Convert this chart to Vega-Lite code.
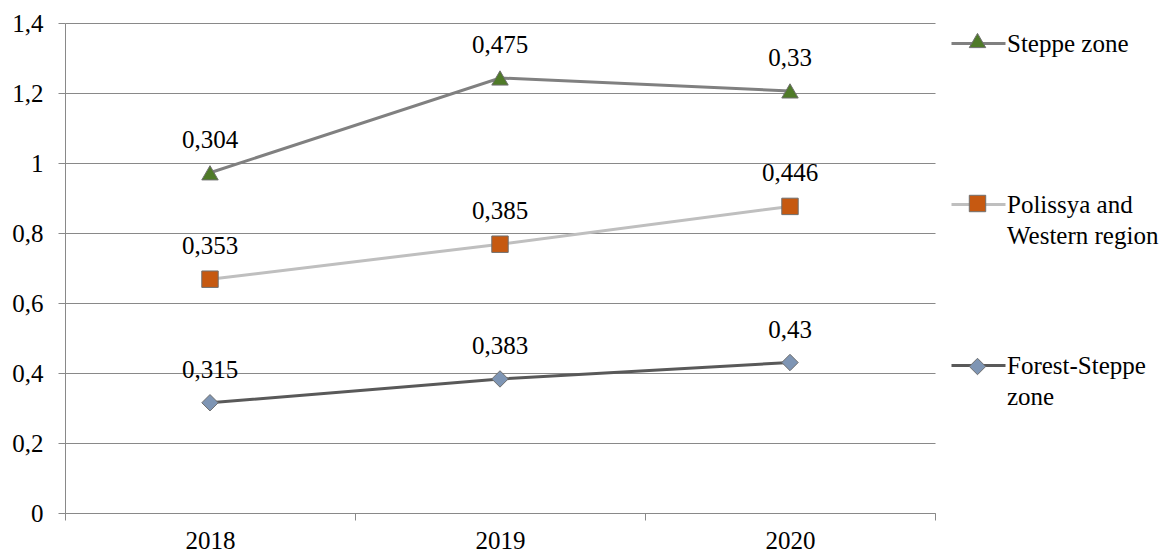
{
  "$schema": "https://vega.github.io/schema/vega-lite/v6.json",
  "width": 870,
  "height": 490,
  "autosize": {"type": "none"},
  "padding": {"left": 65, "top": 23, "right": 238, "bottom": 41},
  "config": {
    "locale": {"number": {"decimal": ",", "thousands": " ", "grouping": [3], "currency": ["", ""]}},
    "font": "Liberation Serif",
    "view": {"stroke": null},
    "axis": {"labelFont": "Liberation Serif", "labelFontSize": 25, "labelColor": "#000000", "domainColor": "#898989", "tickColor": "#898989", "gridColor": "#898989", "tickSize": 7, "title": null}
  },
  "data": {
    "values": [
      {"year": "2018", "zone": "Forest-Steppe zone", "value": 0.315, "order": 1},
      {"year": "2019", "zone": "Forest-Steppe zone", "value": 0.383, "order": 1},
      {"year": "2020", "zone": "Forest-Steppe zone", "value": 0.43, "order": 1},
      {"year": "2018", "zone": "Polissya and Western region", "value": 0.353, "order": 2},
      {"year": "2019", "zone": "Polissya and Western region", "value": 0.385, "order": 2},
      {"year": "2020", "zone": "Polissya and Western region", "value": 0.446, "order": 2},
      {"year": "2018", "zone": "Steppe zone", "value": 0.304, "order": 3},
      {"year": "2019", "zone": "Steppe zone", "value": 0.475, "order": 3},
      {"year": "2020", "zone": "Steppe zone", "value": 0.33, "order": 3}
    ]
  },
  "transform": [
    {"stack": "value", "groupby": ["year"], "sort": [{"field": "order", "order": "ascending"}], "as": ["y0", "y1"]}
  ],
  "encoding": {
    "x": {
      "field": "year", "type": "ordinal",
      "scale": {"type": "band", "paddingInner": 0, "paddingOuter": 0},
      "bandPosition": 0.5,
      "axis": {"tickBand": "extent", "labelAngle": 0, "grid": false, "labelPadding": 8}
    },
    "y": {
      "field": "y1", "type": "quantitative",
      "scale": {"domain": [0, 1.4]},
      "axis": {"values": [0, 0.2, 0.4, 0.6, 0.8, 1, 1.2, 1.4], "format": ".1~f", "labelPadding": 15, "grid": true}
    }
  },
  "layer": [
    {
      "mark": {"type": "line", "strokeWidth": 3},
      "encoding": {
        "stroke": {
          "field": "zone", "type": "nominal",
          "scale": {"domain": ["Steppe zone", "Polissya and Western region", "Forest-Steppe zone"], "range": ["#808080", "#bfbfbf", "#595959"]},
          "legend": {
            "orient": "none", "legendX": 885, "legendY": -8, "title": null, "padding": 0,
            "symbolType": "stroke", "symbolSize": 2916, "symbolStrokeWidth": 3,
            "labelFont": "Liberation Serif", "labelFontSize": 25, "labelColor": "#000000", "labelOffset": 0, "labelLimit": 300,
            "labelExpr": "datum.label == 'Polissya and Western region' ? ['Polissya and', 'Western region'] : datum.label == 'Forest-Steppe zone' ? ['Forest-Steppe', 'zone'] : datum.label",
            "gridAlign": "all", "rowPadding": 88,
            "encode": {
              "labels": {"update": {"lineHeight": {"value": 31}}}
            }
          }
        }
      }
    },
    {
      "mark": {"type": "point", "filled": true, "size": 270, "stroke": "#6f6f6f", "strokeWidth": 1, "opacity": 1},
      "encoding": {
        "fill": {
          "field": "zone", "type": "nominal",
          "sort": ["Steppe zone", "Polissya and Western region", "Forest-Steppe zone"],
          "scale": {"range": ["#4f7a28", "#c65911", "#7e95b4"]},
          "legend": {
            "orient": "none", "legendX": 900, "legendY": 5, "title": null, "padding": 0,
            "symbolSize": 270, "symbolStrokeColor": "#6f6f6f", "symbolStrokeWidth": 1, "symbolOpacity": 1,
            "labelFont": "Liberation Serif", "labelFontSize": 25, "labelOpacity": 0, "labelOffset": 0, "labelLimit": 300,
            "labelExpr": "datum.label == 'Polissya and Western region' ? ['Polissya and', 'Western region'] : datum.label == 'Forest-Steppe zone' ? ['Forest-Steppe', 'zone'] : datum.label",
            "gridAlign": "all", "rowPadding": 106,
            "encode": {
              "labels": {"update": {"lineHeight": {"value": 31}}},
              "symbols": {"update": {"shape": {"signal": "datum.value == 'Steppe zone' ? 'triangle-up' : datum.value == 'Forest-Steppe zone' ? 'diamond' : 'square'"}}}
            }
          }
        },
        "shape": {
          "field": "zone", "type": "nominal",
          "sort": ["Steppe zone", "Polissya and Western region", "Forest-Steppe zone"],
          "scale": {"range": ["triangle-up", "square", "diamond"]},
          "legend": null
        }
      }
    },
    {
      "mark": {"type": "text", "dy": -33, "fontSize": 25, "font": "Liberation Serif", "color": "#000000"},
      "encoding": {
        "text": {"field": "value", "type": "quantitative", "format": ".3~f"}
      }
    }
  ]
}
